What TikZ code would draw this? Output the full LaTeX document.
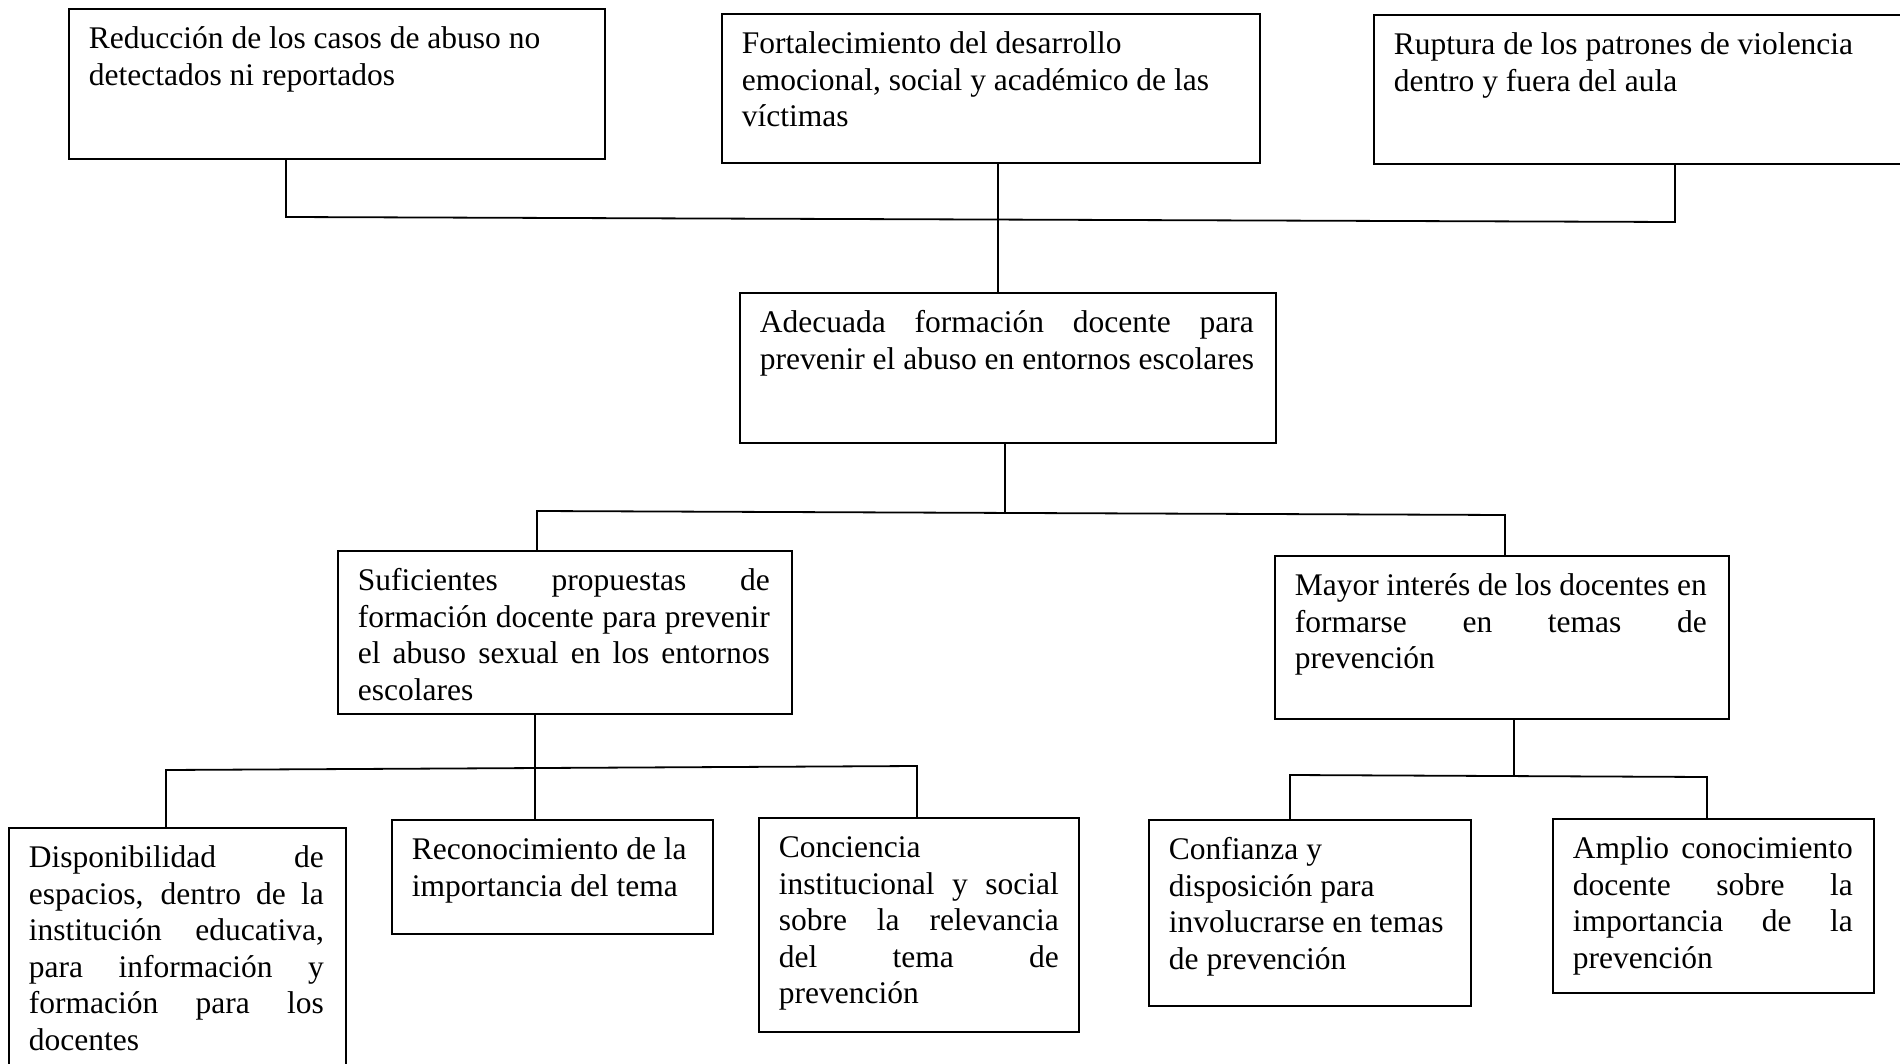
\documentclass[tikz,border=0pt]{standalone}
\usepackage{fontspec}
\setmainfont{Liberation Serif}
\newcommand\jline[2]{\leavevmode\hbox to #1{\spaceskip=0pt\xspaceskip=0pt #2}\par}
\newcommand\rline[1]{\leavevmode\hbox{\spaceskip=0pt\xspaceskip=0pt #1}\par}
\begin{document}
\begin{tikzpicture}[x=1pt,y=-1pt,
  bx/.style={draw, line width=1.8pt, anchor=north west, inner xsep=20pt, inner ysep=0pt,
    text height=40pt, font=\fontsize{31.5}{36.5}\selectfont, align=left},
  ln/.style={line width=1.8pt}]
\useasboundingbox (0,0) rectangle (1900,1064);
% top row
\node[bx, text width=496pt, text depth=110pt] (A) at (68,8)
  {\rline{Reducción de los casos de abuso no}\rline{detectados ni reportados}};
\node[bx, text width=498pt, text depth=109pt] (B) at (721,13)
  {\rline{Fortalecimiento del desarrollo}\rline{emocional, social y académico de las}\rline{víctimas}};
\node[bx, text width=497pt, text depth=109pt] (C) at (1373,14)
  {\rline{Ruptura de los patrones de violencia}\rline{dentro y fuera del aula}};
% centre
\node[bx, text width=496pt, text depth=110pt] (M) at (739,292)
  {\jline{494pt}{Adecuada formación docente para}\rline{prevenir el abuso en entornos escolares}};
% middle row
\node[bx, text width=414pt, text depth=123pt] (S) at (337,550)
  {\jline{412pt}{Suficientes propuestas de}\jline{412pt}{formación docente para prevenir}\jline{412pt}{el abuso sexual en los entornos}\rline{escolares}};
\node[bx, text width=414pt, text depth=123pt] (Y) at (1274,555)
  {\jline{412pt}{Mayor interés de los docentes en}\jline{412pt}{formarse en temas de}\rline{prevención}};
% bottom row
\node[bx, text width=297pt, text depth=208pt] (D) at (8,827)
  {\jline{295pt}{Disponibilidad de}\jline{295pt}{espacios, dentro de la}\jline{295pt}{institución educativa,}\jline{295pt}{para información y}\jline{295pt}{formación para los}\rline{docentes}};
\node[bx, text width=281pt, text depth=74pt] (E) at (391,819)
  {\rline{Reconocimiento de la}\rline{importancia del tema}};
\node[bx, text width=280pt, text depth=174pt] (F) at (758,817)
  {\rline{Conciencia}\jline{280pt}{institucional y social}\jline{280pt}{sobre la relevancia}\jline{280pt}{del tema de}\rline{prevención}};
\node[bx, text width=282pt, text depth=146pt] (G) at (1148,819)
  {\rline{Confianza y}\rline{disposición para}\rline{involucrarse en temas}\rline{de prevención}};
\node[bx, text width=281pt, text depth=134pt] (H) at (1552,818)
  {\jline{280pt}{Amplio conocimiento}\jline{280pt}{docente sobre la}\jline{280pt}{importancia de la}\rline{prevención}};
% connectors
\coordinate (t1) at (286,217);
\coordinate (t2) at (1675,222);
\coordinate (t3) at (998,200);
\draw[ln] (A.south -| t1) -- (t1) -- (t2) -- (C.south -| t2);
\draw[ln] (B.south -| t3) -- (M.north -| t3);
\coordinate (m0) at (1005,512);
\coordinate (m1) at (537,511);
\coordinate (m2) at (1505,515);
\draw[ln] (M.south -| m0) -- (m0);
\draw[ln] (S.north -| m1) -- (m1) -- (m2) -- (Y.north -| m2);
\coordinate (s0) at (535,768);
\coordinate (s1) at (166,770);
\coordinate (s2) at (917,766);
\draw[ln] (S.south -| s0) -- (E.north -| s0);
\draw[ln] (D.north -| s1) -- (s1) -- (s2) -- (F.north -| s2);
\coordinate (y0) at (1514,776);
\coordinate (y1) at (1290,775);
\coordinate (y2) at (1707,777);
\draw[ln] (Y.south -| y0) -- (y0);
\draw[ln] (G.north -| y1) -- (y1) -- (y2) -- (H.north -| y2);
\end{tikzpicture}
\end{document}
